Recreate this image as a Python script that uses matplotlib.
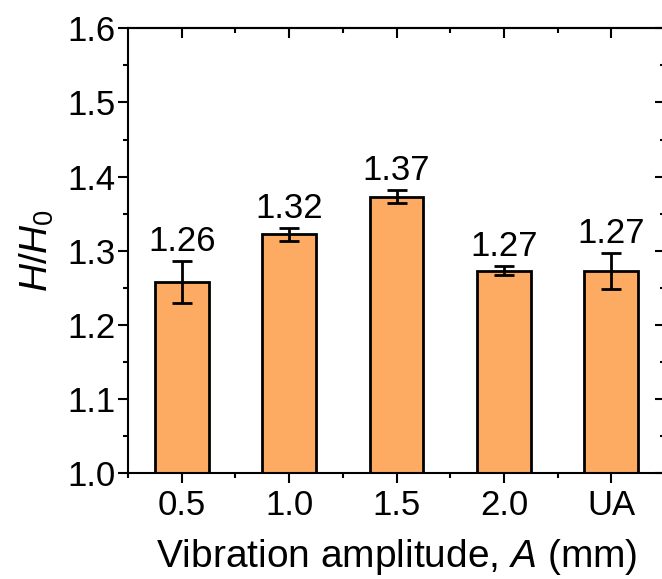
import matplotlib
matplotlib.use('Agg')
import matplotlib.pyplot as plt
import numpy as np

plt.rcParams['font.family'] = ['Liberation Sans', 'DejaVu Sans']
plt.rcParams['mathtext.fontset'] = 'custom'
plt.rcParams['mathtext.rm'] = 'Liberation Sans'
plt.rcParams['mathtext.it'] = 'Liberation Sans:italic'

# H/H0 against vibration amplitude
amplitudes = ['0.5', '1.0', '1.5', '2.0', 'UA']
ratio = [1.258, 1.322, 1.373, 1.273, 1.273]
ratio_err = [0.028, 0.009, 0.009, 0.006, 0.024]
value_labels = ['1.26', '1.32', '1.37', '1.27', '1.27']

fig = plt.figure(figsize=(6.62, 5.79), dpi=100)
ax = fig.add_axes([0.1934, 0.1826, 0.8111, 0.7685])

x = np.arange(len(amplitudes))
ax.bar(x, ratio, width=0.5, bottom=0, color='#FDAA62', edgecolor='black',
       linewidth=2.0, zorder=2)
ax.errorbar(x, ratio, yerr=ratio_err, fmt='none', ecolor='black',
            elinewidth=2.0, capsize=7, capthick=2.0, zorder=3)

# value text sits just above each upper cap
for xi, v, e, txt in zip(x, ratio, ratio_err, value_labels):
    ax.annotate(txt, (xi, v + e), xytext=(0, 7.2), textcoords='offset points',
                ha='center', va='baseline', fontsize=25)

ax.set_xlim(-0.5, 4.5)
ax.set_ylim(1.0, 1.6)
ax.set_xticks(x)
ax.set_xticklabels(amplitudes)
ax.set_xticks(list(x[:-1] + 0.5) + [-0.5, 4.5], minor=True)
ax.set_yticks(np.arange(1.0, 1.61, 0.1))
ax.set_yticks(np.arange(1.05, 1.6, 0.1), minor=True)
ax.yaxis.set_major_formatter(matplotlib.ticker.FormatStrFormatter('%.1f'))

for s in ax.spines.values():
    s.set_linewidth(1.5)

ax.tick_params(which='both', direction='out', width=1.5, labelsize=25,
               top=False, right=False)
ax.tick_params(which='major', length=7.2)
ax.tick_params(which='minor', length=3.6)
ax.tick_params(axis='y', pad=2)
ax.tick_params(axis='x', pad=4)

# inward ticks on the mirrored top and right sides
sec_x = ax.secondary_xaxis('top')
sec_x.set_xticks(x)
sec_x.set_xticks(x[:-1] + 0.5, minor=True)
sec_x.tick_params(which='both', direction='in', width=1.5, labeltop=False)
sec_x.tick_params(which='major', length=7.2)
sec_x.tick_params(which='minor', length=3.6)
sec_x.spines['top'].set_linewidth(1.5)

sec_y = ax.secondary_yaxis('right')
sec_y.set_yticks(np.arange(1.0, 1.61, 0.1))
sec_y.set_yticks(np.arange(1.05, 1.6, 0.1), minor=True)
sec_y.tick_params(which='both', direction='in', width=1.5, labelright=False)
sec_y.tick_params(which='major', length=7.2)
sec_y.tick_params(which='minor', length=3.6)

ax.set_xlabel('Vibration amplitude, $\\mathit{A}$ (mm)', fontsize=28, labelpad=11)
ax.set_ylabel('$\\mathit{H/H}_\\mathrm{0}$', fontsize=28, labelpad=8)

fig.savefig('out.png', dpi=100)
